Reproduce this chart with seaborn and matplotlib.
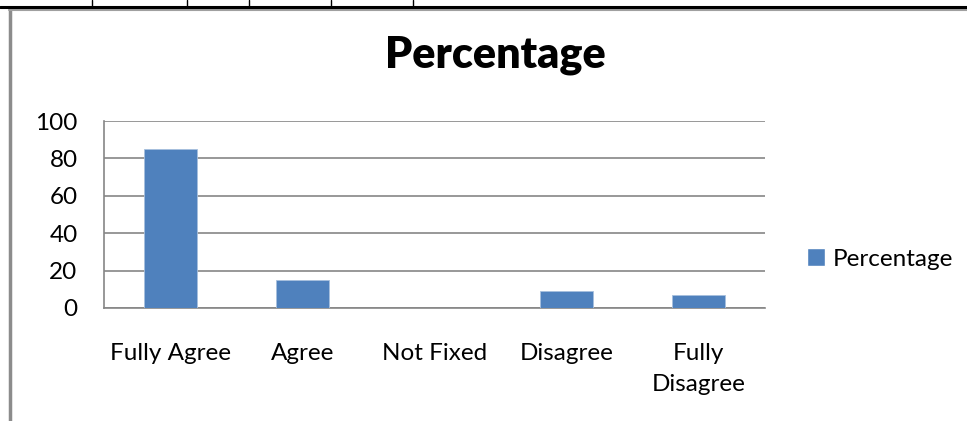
import pandas as pd
import matplotlib.pyplot as plt
import seaborn as sns
from matplotlib.lines import Line2D
from matplotlib.patches import Patch

# Dados do gráfico
categorias = ['Fully Agree', 'Agree', 'Not Fixed', 'Disagree', 'Fully\nDisagree']
percentagem = [85, 15, 0, 9, 7]
serie = 'Percentage'

df = pd.DataFrame({'categoria': categorias, 'valor': percentagem})

sns.set_style('white')
plt.rcParams['font.family'] = ['Lato', 'DejaVu Sans']
plt.rcParams['text.color'] = 'black'
plt.rcParams['xtick.labelcolor'] = 'black'
plt.rcParams['ytick.labelcolor'] = 'black'

W, H = 967, 421
fig = plt.figure(figsize=(W / 100, H / 100), dpi=100)
ax = fig.add_axes([104 / W, 1 - 308 / H, (765 - 104) / W, (308 - 121) / H])

cor = '#4f81bd'
sns.barplot(data=df, x='categoria', y='valor', color=cor, width=0.4,
            saturation=1, ax=ax, edgecolor='#a7c0de', linewidth=0.6, zorder=3)

ax.set_ylim(0, 100)
ax.set_xlim(-0.5, len(categorias) - 0.5)
ax.set_yticks(range(0, 101, 20))
ax.set_xlabel('')
ax.set_ylabel('')

cinza = '#868686'
ax.grid(axis='y', color=cinza, linewidth=1.2, zorder=0)
for lado in ['top', 'right']:
    ax.spines[lado].set_visible(False)
for lado in ['left', 'bottom']:
    ax.spines[lado].set_color(cinza)
    ax.spines[lado].set_linewidth(1.2)

# marcas do eixo x nos limites das categorias
ax.set_xticks([i - 0.5 for i in range(len(categorias) + 1)], minor=True)
ax.tick_params(axis='x', which='minor', length=7, width=1.2, color=cinza, direction='out')
ax.tick_params(axis='x', which='major', length=0, pad=25, labelsize=17.5)
ax.tick_params(axis='y', length=7, width=1.2, color=cinza, direction='out', pad=12, labelsize=17.5)
for t in ax.get_xticklabels():
    t.set_verticalalignment('top')
    t.set_linespacing(1.6)

fig.text(495 / W, 1 - 55 / H, 'Percentage', ha='center', va='center',
         fontsize=31, fontweight='heavy')

fig.legend(handles=[Patch(facecolor=cor, label=serie)], loc='center left',
           bbox_to_anchor=(807 / W, 1 - 259 / H), frameon=False, fontsize=17.5,
           borderpad=0, borderaxespad=0,
           handlelength=0.75, handleheight=0.75, handletextpad=0.3)

# moldura do gráfico e pedaço da tabela acima
fig.add_artist(Line2D([9.5 / W, 9.5 / W], [0, 1 - 9 / H], color='#8c8c8c', linewidth=2.5))
fig.add_artist(Line2D([9 / W, 1], [1 - 10 / H, 1 - 10 / H], color='#a0a0a0', linewidth=1.5))
fig.add_artist(Line2D([0, 1], [1 - 6.5 / H, 1 - 6.5 / H], color='black', linewidth=2.2))
for x in [92, 187, 249, 331, 413]:
    fig.add_artist(Line2D([x / W, x / W], [1 - 6.5 / H, 1], color='black', linewidth=1))

plt.savefig('out.png', dpi=100)
